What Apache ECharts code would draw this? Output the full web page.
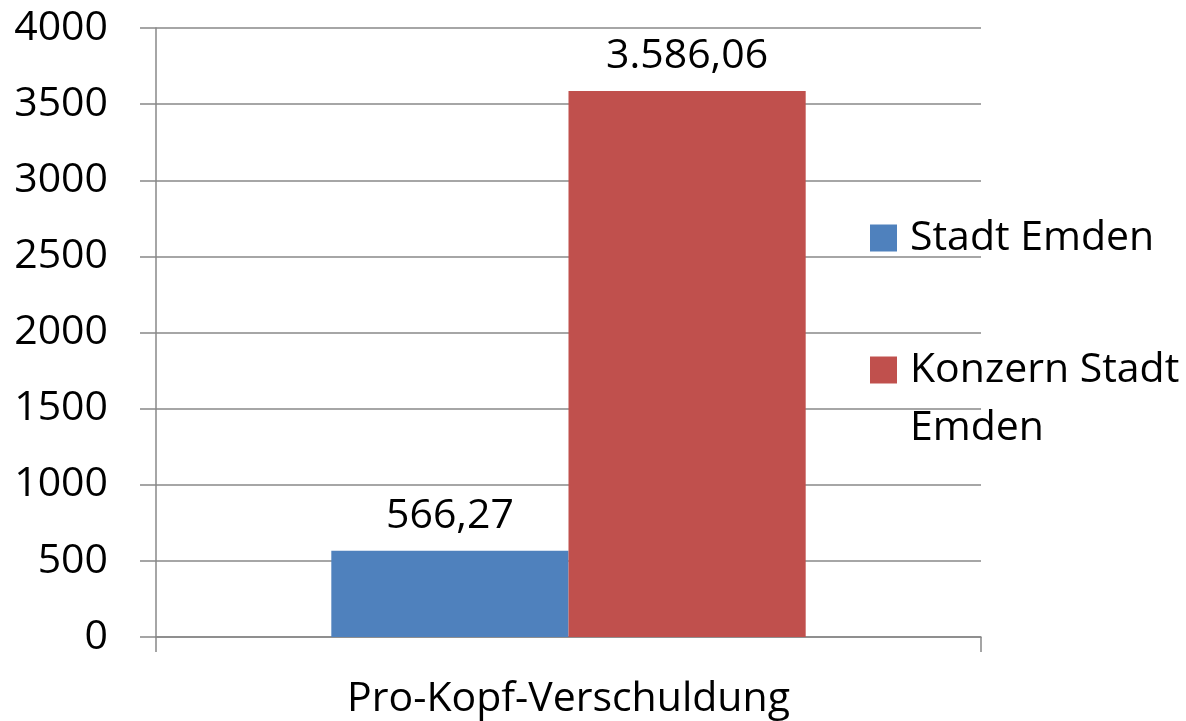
<!DOCTYPE html>
<html><head><meta charset="utf-8">
<script src="https://cdn.jsdelivr.net/npm/echarts@6/dist/echarts.min.js"></script>
<style>html,body{margin:0;padding:0;background:#fff}#c{width:1186px;height:721px}</style>
</head><body><div id="c"></div>
<script>
const categories = ['Pro-Kopf-Verschuldung'];
const seriesNames = ['Stadt Emden', 'Konzern Stadt Emden'];
const stadtValues = [566.27];
const konzernValues = [3586.06];
const yTicks = [0, 500, 1000, 1500, 2000, 2500, 3000, 3500, 4000];

const FONT = 'Open Sans';
const FS = 41;
function fmtDE(v) {
  const parts = v.toFixed(2).split('.');
  const intPart = parts[0].replace(/\B(?=(\d{3})+(?!\d))/g, '.');
  return intPart + ',' + parts[1];
}
const chart = echarts.init(document.getElementById('c'), null, {renderer: 'canvas'});
const gridColor = '#888888';
const legendText = {fontFamily: FONT, fontSize: FS, color: '#000', lineHeight: 58, padding: [0, 0, 0, 8]};
chart.setOption({
  animation: false,
  textStyle: {fontFamily: FONT},
  grid: {left: 156, right: 205, top: 28, bottom: 84, containLabel: false},
  legend: [
    {
      data: [seriesNames[0]], orient: 'vertical', left: 870, top: 209, padding: 0,
      itemWidth: 27, itemHeight: 27, itemGap: 0, icon: 'rect',
      textStyle: legendText, selectedMode: false
    },
    {
      data: [seriesNames[1]], orient: 'vertical', left: 870, top: 283, padding: 0,
      itemWidth: 27, itemHeight: 27, itemGap: 0, icon: 'rect',
      textStyle: legendText, selectedMode: false,
      formatter: n => '\n' + n.replace(/ (\S+)$/, '\n$1')
    }
  ],
  xAxis: {
    type: 'category', data: categories,
    axisLine: {show: true, lineStyle: {color: gridColor, width: 1.5}},
    axisTick: {show: true, length: 15, lineStyle: {color: gridColor, width: 1.5}},
    axisLabel: {fontFamily: FONT, fontSize: FS, color: '#000', margin: 42}
  },
  yAxis: {
    type: 'value', min: yTicks[0], max: yTicks[yTicks.length - 1], interval: 500,
    axisLine: {show: true, lineStyle: {color: gridColor, width: 1.5}},
    axisTick: {show: true, length: 16, lineStyle: {color: gridColor, width: 1.5}},
    splitLine: {show: true, lineStyle: {color: gridColor, width: 1.5}},
    axisLabel: {fontFamily: FONT, fontSize: FS, color: '#000', margin: 48, formatter: v => String(v)}
  },
  series: [
    {
      name: seriesNames[0], type: 'bar', data: stadtValues,
      itemStyle: {color: '#4F81BD'}, barGap: '0%', barCategoryGap: '42.5%',
      label: {show: true, position: 'top', distance: 14, fontFamily: FONT, fontSize: FS, color: '#000', formatter: p => fmtDE(p.value)}
    },
    {
      name: seriesNames[1], type: 'bar', data: konzernValues,
      itemStyle: {color: '#C0504D'}, barGap: '0%', barCategoryGap: '42.5%',
      label: {show: true, position: 'top', distance: 14, fontFamily: FONT, fontSize: FS, color: '#000', formatter: p => fmtDE(p.value)}
    }
  ]
});
</script></body></html>
